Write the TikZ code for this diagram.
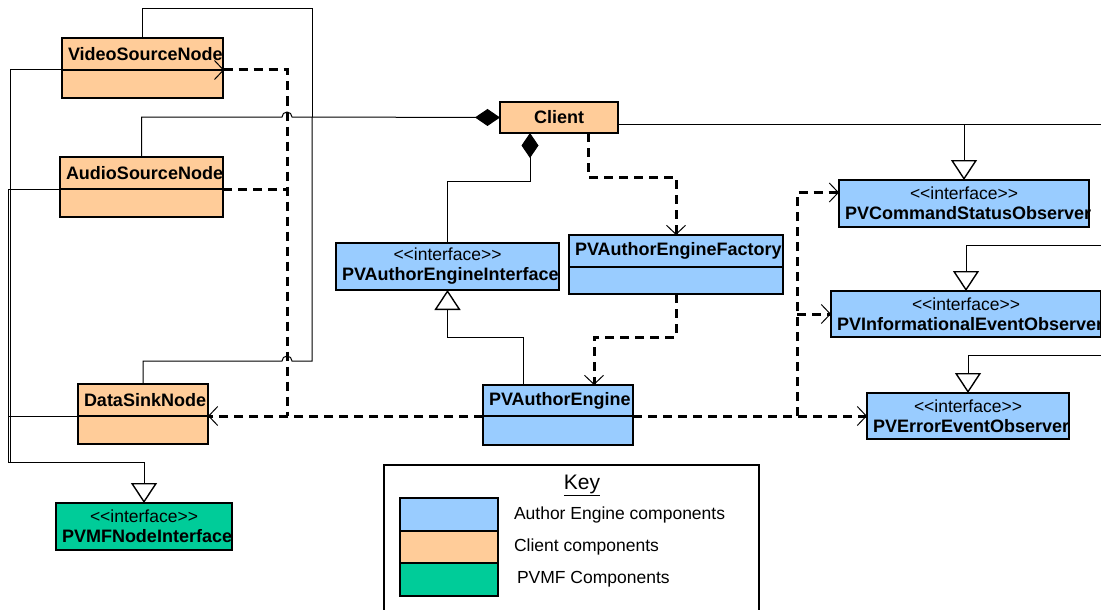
\documentclass[tikz,border=0pt]{standalone}
\usepackage{fontspec}
\setmainfont{Liberation Sans}
\usetikzlibrary{arrows.meta}
\usetikzlibrary{positioning}
\definecolor{aeblue}{HTML}{99CCFF}
\definecolor{clorange}{HTML}{FFCC99}
\definecolor{pvgreen}{HTML}{00CC99}
\newcommand{\stereo}[1]{<{}<#1>{}>}
\newcommand{\nm}{\fontsize{18}{20}\selectfont\bfseries}

\begin{document}
\begin{tikzpicture}[x=1pt,y=-1pt]
\useasboundingbox (0,0) rectangle (1101,610);

\tikzstyle{every node}=[inner sep=0pt, outer sep=0pt, font=\fontsize{17.5}{20}\selectfont]
\tikzstyle{cls}=[draw, line width=1.4pt, anchor=north west, minimum height=32pt, inner xsep=6pt, align=left, font=\nm]
\tikzstyle{cmp}=[draw, line width=1.4pt, minimum height=28pt]
\tikzstyle{ifc}=[draw, line width=1.4pt, anchor=north west, minimum height=47pt, inner xsep=6pt, align=center]
\tikzstyle{swatch}=[draw, line width=1.4pt, minimum width=98pt, minimum height=33pt]
\tikzstyle{assoc}=[line width=1pt]
\tikzstyle{gen}=[line width=1pt, -{Triangle[open,length=20pt,width=26pt,line width=1.4pt]}]
\tikzstyle{comp}=[line width=1pt, -{Diamond[length=25pt,width=17pt]}]
\tikzstyle{dep}=[line width=3pt, dash pattern=on 9pt off 6pt]
\tikzstyle{dto}=[dep, -{Straight Barb[length=9pt,width=19pt,line width=1pt]}]

% client side
\node[cls, fill=clorange, text width=149pt] (vsn) at (62,38) {VideoSourceNode};
\node[cmp, fill=clorange, minimum width=161pt, below=0pt of vsn] (vsnb) {};
\node[cls, fill=clorange, text width=151pt] (asn) at (60,157) {AudioSourceNode};
\node[cmp, fill=clorange, minimum width=163pt, below=0pt of asn] (asnb) {};
\node[cls, fill=clorange, text width=118pt] (dsn) at (78,384) {DataSinkNode};
\node[cmp, fill=clorange, minimum width=130pt, below=0pt of dsn] (dsnb) {};
\node[draw, line width=1.4pt, fill=clorange, anchor=north west, minimum width=118pt,
      minimum height=31pt, font=\nm] (client) at (500,102) {Client};

% author engine
\node[cls, fill=aeblue, text width=202pt] (paf) at (569,235) {PVAuthorEngineFactory};
\node[cmp, fill=aeblue, minimum width=214pt, minimum height=27pt, below=0pt of paf] (pafb) {};
\node[cls, fill=aeblue, text width=138pt, minimum height=31pt] (pae) at (483,385) {PVAuthorEngine};
\node[cmp, fill=aeblue, minimum width=150pt, minimum height=29pt, below=0pt of pae] (paeb) {};
\node[ifc, fill=aeblue, text width=211pt] (paei) at (336,243)
	{\stereo{interface}\\{\nm PVAuthorEngineInterface}};
\node[ifc, fill=aeblue, text width=238pt] (pcso) at (839,180)
	{\stereo{interface}\\{\nm PVCommandStatusObserver}};
\node[ifc, fill=aeblue, text width=258pt, minimum height=46pt] (pieo) at (831,291)
	{\stereo{interface}\\{\nm PVInformationalEventObserver}};
\node[ifc, fill=aeblue, text width=190pt, minimum height=46pt] (peeo) at (867,393)
	{\stereo{interface}\\{\nm PVErrorEventObserver}};
\node[ifc, fill=pvgreen, text width=164pt] (pvmf) at (56,503)
	{\stereo{interface}\\{\nm PVMFNodeInterface}};

\coordinate (cr) at ([yshift=-7pt]client.east);
\coordinate (ir) at (1110,245.5);
\coordinate (er) at (1110,355);
\coordinate (vb) at (287,416);
\coordinate (rb) at (797,416);
\coordinate (lb) at (8.5,462);

% composition
\draw[comp] (asn.north) |- (282,117) arc[start angle=180,end angle=0,radius=5pt] -- (client.west);
\draw[assoc] (vsn.north) |- (312,9) -- (312,117);
\draw[assoc] (dsn.north) |- (282,361) arc[start angle=180,end angle=0,radius=5pt] -| (312,117);
\draw[assoc, {Diamond[length=25pt,width=17pt]}-]
	([xshift=30pt]client.south west) -- ++(0,48) -| (paei.north);

% generalisation
\draw[gen] ([xshift=40pt]pae.north west) -- ++(0,-48) -| (paei.south);
\draw[assoc] (cr) -- ++(500,0);
\draw[gen] (cr -| pcso.north) -- (pcso.north);
\draw[gen] (ir) -| (pieo.north);
\draw[gen] (er) -| (peeo.north);
\draw[assoc] (vsn.south west) -| (10.5,462);
\draw[assoc] (dsn.south west) -- (dsn.south west -| lb);
\draw[gen] (asn.south west) -| (lb) -| (pvmf.north);

% dependencies
\draw[dto] ([xshift=88pt]client.south west) -- ++(0,44) -| (paf.north);
\draw[dto] (pafb.south) -- ++(0,43) -| ([xshift=111pt]pae.north west);
\draw[dto] (pae.south west) -- (dsn.south east);
\draw[dep, {Straight Barb[reversed,length=9pt,width=19pt,line width=1pt]}-]
	([xshift=-9pt]vsn.south east) -| (vb);
\draw[dep] (asn.south east) -- (asn.south east -| vb);
\draw[dto] (pae.south east) -- (peeo.west);
\draw[dto] (rb) |- ([yshift=11pt]pcso.west);
\draw[dto] (pieo.west -| rb) -- (pieo.west);

% key
\node[draw, line width=1.2pt, anchor=north west, minimum width=375pt, minimum height=160pt] (key) at (384,465) {};
\node[font=\fontsize{21}{24}\selectfont] (keyt) at (582,485) {\underline{Key}};
\node[swatch, fill=aeblue, anchor=north west] (sw1) at (400,498) {};
\node[swatch, fill=clorange, minimum height=32pt, below=0pt of sw1] (sw2) {};
\node[swatch, fill=pvgreen, below=0pt of sw2] (sw3) {};
\node[right=16pt of sw1] (l1) {Author Engine components};
\node[right=16pt of sw2] (l2) {Client components};
\node[right=19pt of sw3] (l3) {PVMF Components};
\end{tikzpicture}
\end{document}
